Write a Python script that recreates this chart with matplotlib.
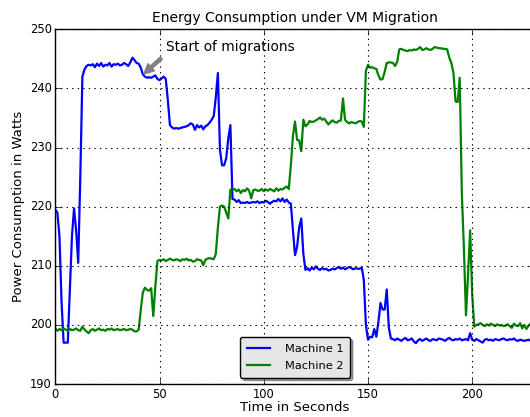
import matplotlib
matplotlib.use("Agg")
import matplotlib.pyplot as plt
import numpy as np

plt.style.use('classic')

# power draw, one sample per second
machine1 = [
    219.5, 219.0, 215.0, 204.0, 197.0, 197.0, 197.0, 206.0, 215.0, 219.7, 216.0, 210.5, 225.0, 242.0,
    243.2, 243.8, 244.0, 243.9, 244.1, 243.6, 244.2, 243.8, 244.3, 243.7, 244.0, 243.9, 244.3, 243.7,
    244.1, 244.0, 244.2, 243.9, 244.0, 244.3, 244.1, 243.8, 244.4,
    245.2, 244.8, 244.3, 244.2, 243.5, 242.4, 242.0, 241.8, 241.9, 241.8, 242.0, 242.2, 241.6, 241.4,
    241.7, 242.0, 241.6,
    238.0, 233.8, 233.4, 233.2, 233.3, 233.2, 233.3, 233.4, 233.5, 233.6, 233.8, 234.1, 233.9, 233.0,
    233.8, 233.4, 233.7, 233.1, 233.6, 233.8, 234.2, 234.7, 235.3,
    238.5, 242.6, 229.6, 227.0, 227.0, 228.2, 231.6, 233.8, 221.3,
    221.2, 220.8, 221.1, 220.6, 220.7, 220.6, 220.8, 220.6, 220.7, 220.8, 220.7, 220.9, 220.6, 220.8,
    220.7, 221.0, 220.8, 220.5, 220.8, 221.0, 220.9, 221.3, 220.9, 221.4, 220.8, 221.2, 220.7, 220.5,
    216.0, 211.8, 213.2, 216.5, 218.0, 212.0, 209.3,
    209.6, 209.2, 209.7, 209.4, 209.9, 209.5, 209.3, 209.6, 209.4, 209.5, 209.2, 209.3, 209.5, 209.4,
    209.6, 209.8, 209.5, 209.7, 209.4, 209.6, 209.8, 209.6, 209.4, 209.6, 209.5, 209.5, 209.7,
    207.6, 200.0, 197.5, 198.0, 197.9, 199.3, 198.0, 200.5, 203.7, 202.6, 202.6, 206.0, 199.5, 197.7,
    197.6, 197.4, 197.7, 197.5, 197.3, 197.6, 197.8, 197.4, 197.5, 197.7, 197.2, 196.9, 197.4, 197.6,
    197.3, 197.5, 197.7, 197.4, 197.3, 197.6, 197.5, 197.4, 197.7, 197.6, 197.5, 197.3, 197.6, 197.8,
    197.5, 197.4, 197.6, 197.5, 197.7, 197.4, 197.5, 197.6, 197.4, 198.6, 197.5, 197.3, 197.6, 197.4,
    197.2, 197.0, 197.5, 197.6, 197.4, 197.5, 197.3, 197.6, 197.5, 197.4, 197.6, 197.7, 197.5, 197.4,
    197.6, 197.5, 197.7, 197.4, 197.3, 197.5, 197.4, 197.3, 197.4, 197.5, 197.3, 197.4, 197.2,
]

machine2 = [
    199.4, 199.0, 199.3, 199.1, 199.4, 199.2, 199.0, 199.3, 199.1, 199.2, 199.4, 199.1, 199.0, 199.7,
    199.2, 198.9, 198.6, 199.1, 199.3, 199.0, 199.2, 199.4, 199.1, 199.2, 199.0, 199.3, 199.2, 199.4,
    199.1, 199.2, 199.3, 199.1, 199.2, 199.3, 199.1, 199.2, 199.3, 199.2, 198.9, 198.9, 199.2,
    202.5, 205.5, 206.3, 205.9, 205.8, 206.2, 201.5, 206.5, 210.8,
    211.0, 210.9, 211.1, 210.8, 211.0, 211.2, 211.0, 210.9, 211.1, 211.0, 210.8, 211.1, 211.0, 211.2,
    210.9, 211.0, 210.7, 210.8, 211.1, 211.0, 210.9, 210.1, 211.0, 211.2, 211.3, 211.2, 211.1,
    212.0, 216.5, 220.0, 220.2, 220.0, 219.0, 218.0, 222.9,
    222.8, 223.0, 222.6, 222.9, 222.3, 222.8, 222.6, 223.1, 222.7, 221.4, 222.8, 222.9, 222.7, 222.7,
    223.0, 222.6, 222.9, 222.7, 223.0, 222.8, 222.6, 223.1, 222.7, 223.0, 222.9, 223.2, 223.4, 223.0,
    227.0, 232.0, 234.4, 231.3, 231.2, 229.4, 234.7, 233.6,
    233.9, 234.5, 234.3, 234.4, 234.6, 234.8, 235.1, 234.7, 234.9, 234.4, 233.9, 234.3, 234.6, 234.3,
    234.2, 234.5, 234.6, 238.3, 234.7, 234.3, 234.1, 234.3, 234.2, 234.1, 234.3, 234.5, 234.4, 233.5,
    243.0, 244.0, 243.5, 243.6, 243.4, 243.3, 242.2, 241.5, 241.6, 242.8, 244.3, 244.4, 244.4, 244.3,
    243.8, 244.5,
    246.6, 246.7, 246.5, 246.4, 246.3, 246.5, 246.4, 246.6, 246.5, 246.7, 247.0, 246.5, 246.6, 246.8,
    246.6, 246.5, 246.7, 247.0, 246.9, 246.8, 246.8, 246.7, 246.7, 246.6,
    245.2, 244.3, 242.6, 237.8, 237.7, 241.8, 222.5, 213.0, 201.6, 208.5, 216.0, 205.0, 199.7,
    200.0, 200.1, 200.3, 200.0, 199.8, 200.1, 199.9, 200.2, 200.0, 199.8, 200.1, 199.9, 200.0, 199.8,
    199.9, 200.1, 199.8, 199.5, 200.2, 199.9, 199.8, 200.3, 199.4, 200.0, 199.3, 199.9, 200.2, 199.4,
    199.9,
]

fig = plt.figure(figsize=(5.3, 4.17), dpi=100, facecolor='white')
ax = fig.add_axes([0.1043, 0.0791, 0.9047, 0.8506])

ax.plot(np.arange(len(machine1)), machine1, color='b', lw=1.6, label='Machine 1')
ax.plot(np.arange(len(machine2)), machine2, color='g', lw=1.6, label='Machine 2')

ax.set_xlim(0, 230)
ax.set_ylim(190, 250)
ax.set_xticks([0, 50, 100, 150, 200])
ax.tick_params(labelsize=8.3)
ax.tick_params(axis='x', pad=3)
ax.tick_params(axis='y', pad=2.5)
ax.grid(True, color='k', linestyle=':', lw=0.8)

ax.set_title('Energy Consumption under VM Migration', fontsize=10)
ax.set_xlabel('Time in Seconds', fontsize=9.5, labelpad=0)
ax.set_ylabel('Power Consumption in Watts', fontsize=9.5, labelpad=3.5)

ax.annotate('Start of migrations', xy=(42, 242.3), xytext=(53, 246.3), fontsize=9.8,
            arrowprops=dict(facecolor='gray', edgecolor='gray', shrink=0.05,
                            width=2.2, headwidth=7, headlength=7))

leg = ax.legend(loc='lower center', fancybox=True, shadow=True, fontsize=8.2,
                numpoints=1, borderaxespad=0.55, borderpad=0.6, labelspacing=0.65,
                handletextpad=1.3)
leg.get_frame().set_facecolor('0.9')

fig.savefig('out.png', dpi=100, facecolor='white')
